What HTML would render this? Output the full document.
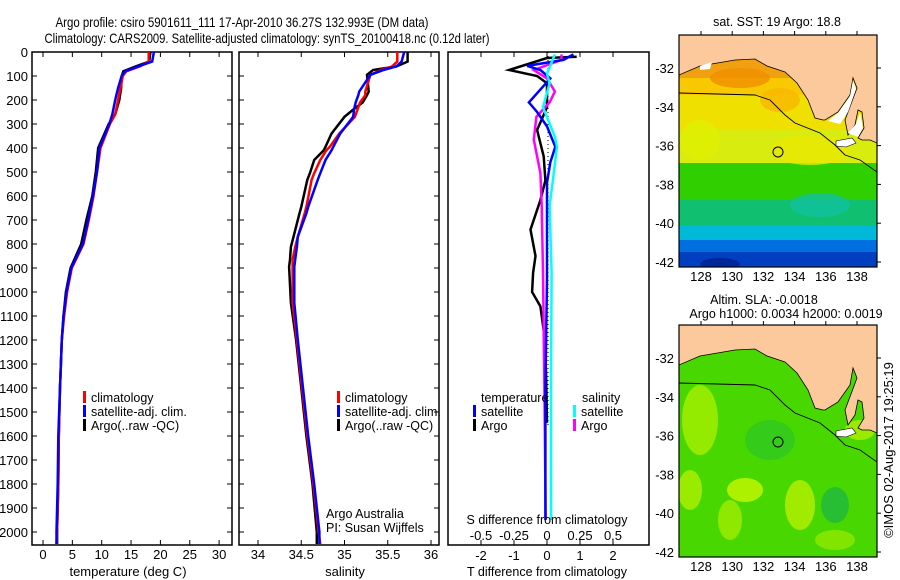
<!DOCTYPE html>
<html><head><meta charset="utf-8"><style>
html,body{margin:0;padding:0;background:#fff;}
svg{display:block;font-family:"Liberation Sans",sans-serif;}
</style></head><body>
<svg id="fig" width="900" height="580" viewBox="0 0 900 580" xmlns="http://www.w3.org/2000/svg">
<rect width="900" height="580" fill="#fff"/>
<text x="242" y="27" font-size="14" text-anchor="middle" textLength="373" lengthAdjust="spacingAndGlyphs">Argo profile: csiro 5901611_111 17-Apr-2010 36.27S 132.993E (DM data)</text>
<text x="267" y="43" font-size="14" text-anchor="middle" textLength="445" lengthAdjust="spacingAndGlyphs">Climatology: CARS2009. Satellite-adjusted climatology: synTS_20100418.nc (0.12d later)</text>
<g id="charts"></g>
<g id="maps"></g>
<text transform="translate(893,450) rotate(-90)" font-size="13" text-anchor="middle">©IMOS 02-Aug-2017 19:25:19</text>
</svg>
<script>
// ---- data ----
const tempDepth = [0,40,60,80,100,150,200,260,300,400,500,600,700,800,900,1000,1100,1200,1400,1600,1800,2000,2050];
const tempClim  = [18.0,18.0,16.5,14.2,13.6,13.2,12.8,12.3,11.4,9.8,9.2,8.6,7.8,6.9,4.9,4.1,3.6,3.2,2.9,2.7,2.6,2.4,2.3];
const tempSat   = [18.9,18.6,16.2,14.0,13.4,12.8,12.3,11.8,11.3,9.6,9.2,8.5,7.7,6.8,4.8,4.0,3.5,3.2,2.9,2.6,2.5,2.3,2.3];
const tempArgo  = [18.3,18.1,15.8,13.7,13.4,13.3,13.0,12.3,11.2,9.4,9.0,8.4,7.4,6.5,4.7,3.9,3.5,3.2,2.9,2.7,2.6,2.4,2.4];

const salDepth = [0,40,60,75,95,165,180,210,240,270,340,395,410,450,505,533,645,672,770,812,865,895,1045,1200,1400,1600,1800,2000,2050];
const salClim  = [35.61,35.61,35.55,35.42,35.3,35.24,35.24,35.18,35.15,35.12,34.94,34.83,34.79,34.72,34.65,34.62,34.56,34.54,34.46,34.43,34.4,34.4,34.4,34.45,34.51,34.57,34.64,34.7,34.72];
const salSat   = [35.69,35.66,35.6,35.45,35.3,35.17,35.16,35.13,35.11,35.1,34.95,34.87,34.85,34.78,34.72,34.69,34.58,34.56,34.46,34.45,34.43,34.42,34.42,34.46,34.52,34.58,34.65,34.71,34.71];
const salArgo  = [35.73,35.73,35.6,35.33,35.26,35.28,35.26,35.21,35.1,35.0,34.85,34.78,34.76,34.65,34.6,34.57,34.5,34.48,34.41,34.38,34.37,34.36,34.38,34.44,34.5,34.56,34.63,34.68,34.68];

const dDepthTA = [20,25,75,100,130,230,325,435,535,617,740,850,920,1000,1060,1160,1330,1545];
const dTArgo   = [0.9,0.0,-1.15,-0.3,0.0,0.0,-0.3,-0.1,-0.05,-0.2,-0.5,-0.35,-0.42,-0.45,-0.2,-0.1,-0.03,0.0];
const dDepthTS = [10,33,58,75,110,210,250,310,395,460,545,950,1400,1950];
const dTSat    = [0.8,0.5,-0.6,-0.2,0.1,-0.55,-0.3,0.0,0.25,0.1,0.0,0.0,-0.05,-0.05];
const dDepthSS = [10,90,130,230,353,395,535,640,920,1400,1950];
const dSSat    = [0.06,0.0,0.02,-0.03,0.06,0.075,0.045,0.02,0.035,0.03,0.03];
const dDepthSA = [10,33,75,110,165,210,270,365,505,640,920,1400,1950];
const dSArgo   = [0.11,0.11,-0.1,0.0,0.06,0.02,-0.08,-0.1,-0.05,-0.04,-0.03,-0.02,-0.01];

const depthTicks = [0,100,200,300,400,500,600,700,800,900,1000,1100,1200,1300,1400,1500,1600,1700,1800,1900,2000];
const tempTicks = [0,5,10,15,20,25,30];
const salTicks = [34,34.5,35,35.5,36];
const salTickLabels = ["34","34.5","35","35.5","36"];
const dTTicks = [-2,-1,0,1,2];
const dSTicks = [-0.5,-0.25,0,0.25,0.5];
const dSTickLabels = ["-0.5","-0.25","0","0.25","0.5"];
const lonTicks = [128,130,132,134,136,138];
const latTicks = [-32,-34,-36,-38,-40,-42];

// ---- scales ----
const NS="http://www.w3.org/2000/svg";
const yD = d => 52 + d*0.24;
const xT = t => 43 + t*5.87;
const xS = s => 258 + (s-34)*86.5;
const xDT = t => 547 + t*33;
const xDS = s => 547 + s*132;
function el(tag, attrs, parent){const e=document.createElementNS(NS,tag);for(const k in attrs)e.setAttribute(k,attrs[k]);parent.appendChild(e);return e;}
function txt(x,y,s,size,anchor,parent){const e=el('text',{x:x,y:y,'font-size':size,'text-anchor':anchor},parent);e.textContent=s;return e;}
const charts=document.getElementById('charts');

function panel(x0,x1,name){
  const g=el('g',{},charts);
  
  
  const r=el('rect',{x:x0,y:52,width:x1-x0,height:493,fill:'none',stroke:'#000','stroke-width':1.5},g);
  
  
  return g;
}
function line(xs,ds,xf,color,w,g,name){
  const pts=xs.map((v,i)=>xf(v).toFixed(1)+','+yD(ds[i]).toFixed(1)).join(' ');
  const p=el('polyline',{points:pts,fill:'none',stroke:color,'stroke-width':w,'stroke-linejoin':'miter'},g);
  
  
}
function xticks(ticks,labels,xf,g,ly){
  ticks.forEach((t,i)=>{const x=xf(t);
    el('line',{x1:x,y1:545,x2:x,y2:540,stroke:'#000'},g);
    el('line',{x1:x,y1:52,x2:x,y2:57,stroke:'#000'},g);
    const l=txt(x,ly,labels[i],13,'middle',g);
    
    
  });
}
function yticks(g,x0,x1,labels){
  depthTicks.forEach(d=>{const y=yD(d);
    el('line',{x1:x0,y1:y,x2:x0+5,y2:y,stroke:'#000'},g);
    el('line',{x1:x1,y1:y,x2:x1-5,y2:y,stroke:'#000'},g);
    if(labels){const l=txt(28,y+5,String(d),13,'end',g);
      
      }
  });
}
function legend(g,x,y,color,label,name){
  el('rect',{x:x,y:y-11,width:3,height:12,fill:color},g);
  const t=txt(x+8,y,label,12.5,'start',g);
  
  
}

// panel 1 temperature
let g1=panel(32,232,'temperature-panel');
yticks(g1,32,232,true);
xticks(tempTicks,tempTicks.map(String),xT,g1,559);
line(tempArgo,tempDepth,xT,'#000',2.5,g1,'temp-argo-line');
line(tempClim,tempDepth,xT,'#f00',2.5,g1,'temp-climatology-line');
line(tempSat,tempDepth,xT,'#00f',2.5,g1,'temp-satellite-line');
let xl=txt(128,576,'temperature (deg C)',13,'middle',g1);


legend(g1,83,402,'#f00','climatology','legend-climatology');
legend(g1,83,416,'#00f','satellite-adj. clim.','legend-satellite');
legend(g1,83,430,'#000','Argo(..raw -QC)','legend-argo');

// panel 2 salinity
let g2=panel(239,439,'salinity-panel');
yticks(g2,239,439,false);
xticks(salTicks,salTickLabels,xS,g2,559);
line(salArgo,salDepth,xS,'#000',2.5,g2,'sal-argo-line');
line(salClim,salDepth,xS,'#f00',2.5,g2,'sal-climatology-line');
line(salSat,salDepth,xS,'#00f',2.5,g2,'sal-satellite-line');
xl=txt(345,576,'salinity',13,'middle',g2);


legend(g2,337,402,'#f00','climatology','legend-climatology');
legend(g2,337,416,'#00f','satellite-adj. clim.','legend-satellite');
legend(g2,337,430,'#000','Argo(..raw -QC)','legend-argo');
let pi=txt(326,518,'Argo Australia',12.5,'start',g2);


pi=txt(326,532,'PI: Susan Wijffels',12.5,'start',g2);



// panel 3 differences
let g3=panel(448,649,'difference-panel');
dTTicks.forEach(t=>{const x=xDT(t);el('line',{x1:x,y1:545,x2:x,y2:540,stroke:'#000'},g3);el('line',{x1:x,y1:52,x2:x,y2:57,stroke:'#000'},g3);
  const l=txt(x,560,String(t),13,'middle',g3);
  
  });
dSTicks.forEach((s,i)=>{const l=txt(xDS(s),540,dSTickLabels[i],13,'middle',g3);
  
  });
el('line',{x1:548,y1:52,x2:548,y2:425,stroke:'#000','stroke-width':1,'stroke-dasharray':'1,3'},g3);
line(dTArgo,dDepthTA,xDT,'#000',2.5,g3,'tdiff-argo-line');
line(dSArgo,dDepthSA,xDS,'#f0f',2.5,g3,'sdiff-argo-line');
line(dTSat,dDepthTS,xDT,'#00f',2.5,g3,'tdiff-satellite-line');
line(dSSat,dDepthSS,xDS,'#0ff',2.5,g3,'sdiff-satellite-line');
xl=txt(547,524,'S difference from climatology',12.5,'middle',g3);


xl=txt(547,576,'T difference from climatology',12.5,'middle',g3);


xl=txt(481,402,'temperature',12.5,'start',g3);


xl=txt(582,402,'salinity',12.5,'start',g3);


legend(g3,473,416,'#00f','satellite','legend-t-satellite');
legend(g3,473,430,'#000','Argo','legend-t-argo');
legend(g3,573,416,'#0ff','satellite','legend-s-satellite');
legend(g3,573,430,'#f0f','Argo','legend-s-argo');

// ---- maps ----
const maps=document.getElementById('maps');
function mapPanel(dy,name,bands,blobs){
  const g=el('g',{transform:'translate(0,'+dy+')'},maps);
  
  
  const cid='clip'+dy;
  const cp=el('clipPath',{id:cid},g);el('rect',{x:679,y:35,width:198,height:232},cp);
  const inner=el('g',{'clip-path':'url(#'+cid+')'},g);
  bands.forEach(b=>el('rect',{x:679,y:b[0],width:198,height:b[1]-b[0],fill:b[2]},inner));
  blobs.forEach(b=>el('ellipse',{cx:b[0],cy:b[1],rx:b[2],ry:b[3],fill:b[4],opacity:0.8},inner));
  const land=el('polygon',{points:'679,35 877,35 877,143 870,140 862,140 858,138 864,128 862,112 858,110 855,125 848,135 845,120 857,88 853,78 850,95 838,112 825,120 823,120 815,118 808,100 797,83 785,72 767,66 755,59 735,60 700,66 679,75',fill:'#fbc99b',stroke:'#000','stroke-width':0.8},inner);
  
  
  el('polygon',{points:'836,141 852,138 856,143 846,147 836,146',fill:'#fff',stroke:'#000','stroke-width':0.6},inner);
  if(dy===0){
    el('polygon',{points:'828,121 838,113 850,96 853,80 856,89 848,112 840,124',fill:'#fff'},inner);
    el('polygon',{points:'848,133 856,124 860,113 863,128 858,137',fill:'#fff'},inner);
    el('polygon',{points:'700,66 712,62 710,69 700,70',fill:'#fff'},inner);
  }
  el('polyline',{points:'679,93 755,95 770,100 785,115 795,123 820,133 835,145 845,155 860,160 877,172',fill:'none',stroke:'#000','stroke-width':0.9},inner);
  const c=el('circle',{cx:778,cy:152,r:5,fill:'none',stroke:'#000','stroke-width':1},g);
  
  
  el('rect',{x:679,y:35,width:198,height:232,fill:'none',stroke:'#000','stroke-width':1.2},g);
  lonTicks.forEach(l=>{const x=701+(l-128)*15.6;
    el('line',{x1:x,y1:35,x2:x,y2:31,stroke:'#000'},g);
    const t=txt(x,281,String(l),13,'middle',g);
    
    });
  latTicks.forEach(l=>{const y=68+(-32-l)*19.4;
    el('line',{x1:877,y1:y,x2:881,y2:y,stroke:'#000'},g);
    const t=txt(674,y+5,String(l),13,'end',g);
    
    });
  return g;
}
mapPanel(0,'sst-map',[
  [35,78,'#f0a010'],[78,95,'#f8c800'],[95,130,'#f0e000'],[130,163,'#d8ec10'],[163,200,'#30d000'],
  [200,225,'#10c070'],[225,240,'#00b8d8'],[240,252,'#0070e0'],[252,267,'#0040c0']],
  [[740,78,30,10,'#f09000'],[780,100,20,12,'#f8b800'],[810,150,40,15,'#e8e800'],[700,140,20,20,'#e0f000'],[720,264,20,6,'#002090'],[820,205,30,12,'#10c0a0']]);
mapPanel(290,'sla-map',[[35,267,'#48d800']],
  [[700,130,18,35,'#a8f000'],[745,200,18,12,'#c8f800'],[800,215,15,25,'#b8f000'],[860,140,15,10,'#b0f000'],[730,230,12,20,'#a0ec00'],[770,150,25,20,'#30c820'],[835,215,14,18,'#20b840'],[690,200,12,20,'#b0f000'],[835,250,20,10,'#90e800']]);
let mt=txt(777,26,'sat. SST: 19 Argo: 18.8',12.5,'middle',maps);


mt=txt(764,304,'Altim. SLA: -0.0018',12.5,'middle',maps);


mt=txt(786,318,'Argo h1000: 0.0034 h2000: 0.0019',12.5,'middle',maps);


</script>
</body></html>
